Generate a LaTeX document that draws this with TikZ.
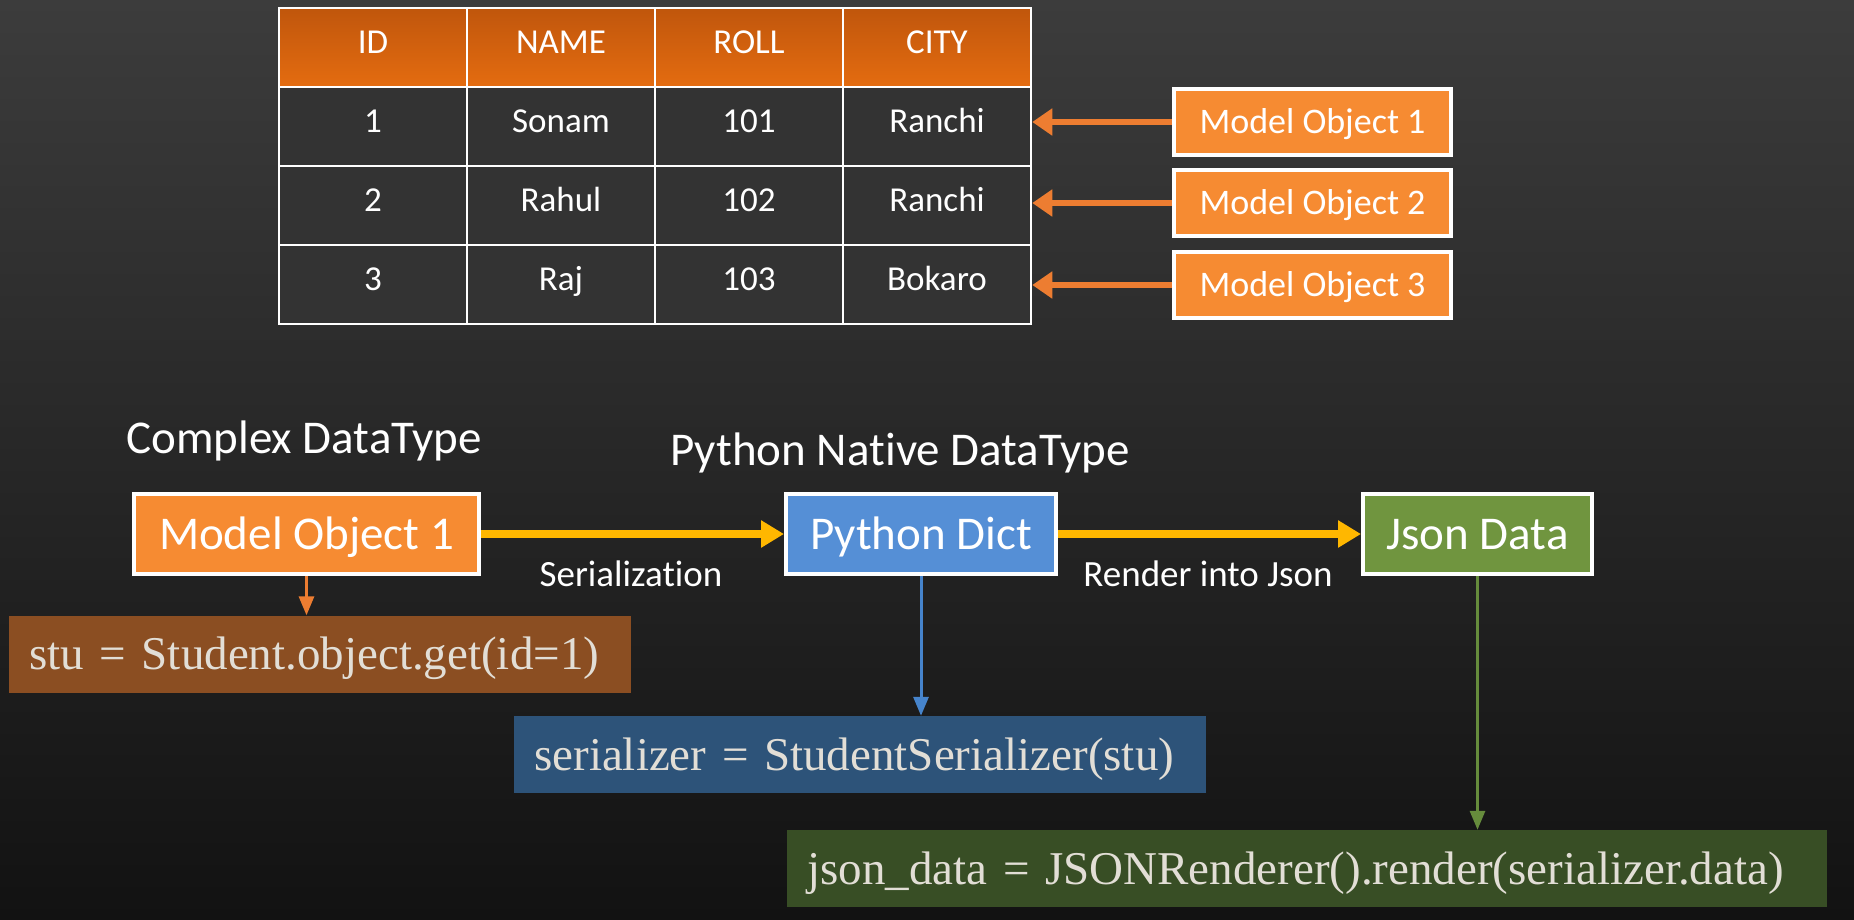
\documentclass[tikz,border=0pt]{standalone}
\usepackage{fontspec}
\setmainfont{Carlito}[Ligatures=NoCommon]
\newfontfamily\codefont{Liberation Serif}
\usetikzlibrary{positioning,arrows.meta}

\definecolor{bgtop}{RGB}{60,60,60}
\definecolor{bgbot}{RGB}{18,18,18}
\definecolor{cellgray}{RGB}{51,51,51}
\definecolor{headtop}{RGB}{192,86,12}
\definecolor{headbot}{RGB}{228,108,16}
\definecolor{objorange}{RGB}{246,139,50}
\definecolor{arrorange}{RGB}{237,125,49}
\definecolor{gold}{RGB}{255,183,0}
\definecolor{dictblue}{RGB}{85,143,214}
\definecolor{arrblue}{RGB}{70,132,204}
\definecolor{jsongreen}{RGB}{112,149,63}
\definecolor{arrgreen}{RGB}{102,140,60}
\definecolor{codebrown}{RGB}{139,78,34}
\definecolor{codeblue}{RGB}{45,83,121}
\definecolor{codegreen}{RGB}{56,78,37}
\definecolor{codetext}{RGB}{226,222,214}

\begin{document}
\begin{tikzpicture}[x=1pt, y=-1pt,
  cell/.style={draw=white, line width=2.5pt, fill=cellgray, minimum width=188pt, minimum height=79pt, inner sep=0pt, text height=24.5pt, text depth=12pt, text=white, font=\fontsize{35}{40}\selectfont},
  headcell/.style={cell, top color=headtop, bottom color=headbot},
  objbox/.style={draw=white, line width=4pt, fill=objorange, minimum width=277pt, minimum height=66pt, inner sep=0pt, text height=23pt, text depth=0pt, text=white, font=\fontsize{36}{40}\selectfont},
  bigbox/.style={draw=white, line width=4pt, minimum height=80pt, inner sep=0pt, text height=30pt, text depth=0pt, text=white, font=\fontsize{47}{50}\selectfont},
  codebox/.style={minimum height=77pt, inner xsep=20pt, inner ysep=0pt, text height=31pt, text depth=0pt, align=left, text=codetext, font=\codefont\fontsize{47}{50}\selectfont},
  heading/.style={text=white, font=\fontsize{47}{50}\selectfont},
  steplabel/.style={text=white, font=\fontsize{37}{40}\selectfont},
  objarrow/.style={arrorange, line width=6pt, -{Triangle[length=20pt, width=26pt]}},
  flowarrow/.style={gold, line width=8pt, -{Triangle[length=23pt, width=26pt]}},
  downarrow/.style={line width=3pt, -{Triangle[length=19pt, width=15pt]}}]
  \shade[top color=bgtop, bottom color=bgbot] (0,0) rectangle (1854,919);
  % table
  \foreach \txt [count=\c] in {ID,NAME,ROLL,CITY}
    \node[headcell] (h\c) at ({279+188*\c-94},47.5) {\txt};
  \foreach \id/\name/\roll/\city [count=\r] in {1/Sonam/101/Ranchi, 2/Rahul/102/Ranchi, 3/Raj/103/Bokaro} {
    \node[cell] (c\r-1) at (373,{47.5+79*\r}) {\id};
    \node[cell] (c\r-2) at (561,{47.5+79*\r}) {\name};
    \node[cell] (c\r-3) at (749,{47.5+79*\r}) {\roll};
    \node[cell] (c\r-4) at (937,{47.5+79*\r}) {\city};
  }
  % model objects
  \node[objbox] (m1) at (1312.5,122) {Model Object 1};
  \node[objbox] (m2) at (1312.5,203) {Model Object 2};
  \node[objbox] (m3) at (1312.5,285) {Model Object 3};
  \foreach \r in {1,2,3}
    \draw[objarrow] (m\r.west) -- (m\r.west -| c\r-4.east);
  % flow
  \node[heading] (complex) at (304,441) {Complex DataType};
  \node[heading] (native) at (900,453) {Python Native DataType};
  \node[bigbox, fill=objorange, minimum width=345pt] (model) at (306.5,534) {Model Object 1};
  \node[bigbox, fill=dictblue, minimum width=270pt] (dict) at (921,534) {Python Dict};
  \node[bigbox, fill=jsongreen, minimum width=229pt] (json) at (1477.5,534) {Json Data};
  \draw[flowarrow] (model) -- (dict);
  \draw[flowarrow] (dict) -- (json);
  \node[steplabel] (ser) at (631,574) {Serialization};
  \node[steplabel] (render) at (1208,574) {Render into Json};
  % code
  \node[codebox, fill=codebrown, text width=582pt, anchor=west] (getcode) at (9,654) {\mbox{stu = Student.object.get(id=1)}};
  \node[codebox, fill=codeblue, text width=652pt, anchor=west] (sercode) at (514,754.5) {\mbox{serializer = StudentSerializer(stu)}};
  \node[codebox, fill=codegreen, text width=1000pt, anchor=west] (jsoncode) at (787,868.5) {\mbox{json\_data = JSONRenderer().render(serializer.data)}};
  \draw[downarrow, arrorange] (model.south) -- (model.south |- getcode.north);
  \draw[downarrow, arrblue] (dict.south) -- (dict.south |- sercode.north);
  \draw[downarrow, arrgreen] (json.south) -- (json.south |- jsoncode.north);
\end{tikzpicture}
\end{document}
